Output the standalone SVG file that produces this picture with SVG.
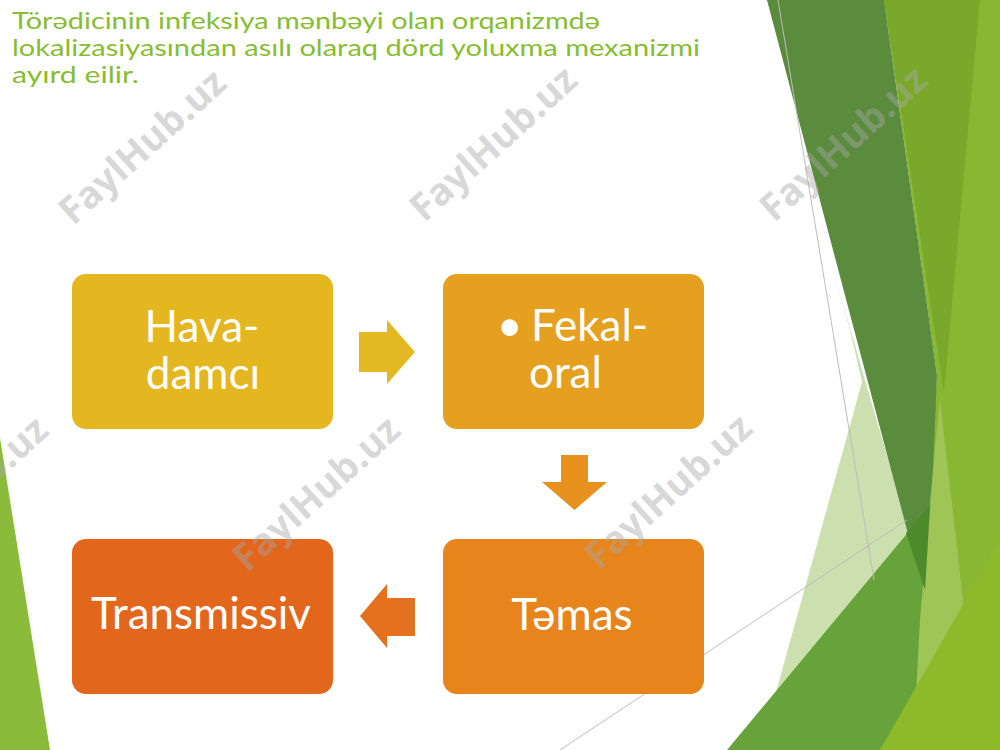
<svg xmlns="http://www.w3.org/2000/svg" width="1000" height="750" viewBox="0 0 1000 750">
  <style>
    .title { font-family: Lato, "Noto Sans", "DejaVu Sans", sans-serif; font-size: 23px; fill: #88bc32; }
    .lbl { font-family: Lato, "Noto Sans", "DejaVu Sans", sans-serif; font-size: 44px; fill: #ffffff; }
    .wm { font-family: "Open Sans", "Liberation Sans", sans-serif; font-weight: 700; font-size: 38px; fill: #a8a8a8; fill-opacity: 0.45; }
    .thin { stroke: #bdbdbd; stroke-width: 1; fill: none; }
  </style>
  <rect x="0" y="0" width="1000" height="750" fill="#ffffff"/>

  <g id="decoration">
    <polygon points="0,438 50,750 0,750" fill="#8bbb3a"/>
    <polygon points="884,0 1000,0 1000,750 880,750 913,690 925,560 937,375" fill="#8ab733"/>
    <polygon points="884,0 980,0 944,392" fill="#79a82b"/>
    <polygon points="832,266 850,330 862,382 760,750 913,750 908,528" fill="#a9c97a" fill-opacity="0.6"/>
    <polygon points="767,0 884,0 937,375 933,470 925,588 907,530" fill="#5b8b3d"/>
    <polygon points="940,400 963,600 958,680 915,700 920,600 932,480" fill="#b4d47c" fill-opacity="0.5"/>
    <polygon points="727,750 910,530 930,505 920,620 913,750" fill="#68a23a"/>
    <polygon points="906,533 930,505 925,590" fill="#4d8a2b"/>
    <polygon points="880,750 1000,540 1000,750" fill="#8cba2a"/>
    <line class="thin" x1="778" y1="0" x2="874" y2="580"/>
    <line class="thin" x1="560" y1="750" x2="907" y2="520"/>
  </g>

  <g id="title">
    <text class="title" x="12" y="29" textLength="588" lengthAdjust="spacingAndGlyphs">Törədicinin infeksiya mənbəyi olan orqanizmdə</text>
    <text class="title" x="12" y="56" textLength="688" lengthAdjust="spacingAndGlyphs">lokalizasiyasından asılı olaraq dörd yoluxma mexanizmi</text>
    <text class="title" x="12" y="83" textLength="127" lengthAdjust="spacingAndGlyphs">ayırd eilir.</text>
  </g>

  <g id="connectors">
    <polygon points="359,332 387,332 387,320 415,352 387,384 387,372 359,372" fill="#e4b823"/>
    <polygon points="561,455 588,455 588,482 607,482 574.5,510 542,482 561,482" fill="#e7911e"/>
    <polygon points="415,598 387,598 387,584 360,616 387,648 387,636 415,636" fill="#e5701d"/>
  </g>

  <g id="node-hava">
    <rect x="72" y="274" width="261" height="155" rx="14" fill="#e4b61f"/>
    <text class="lbl" x="202" y="342" text-anchor="middle">Hava-</text>
    <text class="lbl" x="203" y="389" text-anchor="middle">damcı</text>
  </g>

  <g id="node-fekal">
    <rect x="443" y="274" width="261" height="155" rx="14" fill="#e6a020"/>
    <text class="lbl" y="341"><tspan x="497">•</tspan><tspan x="531">Fekal-</tspan></text>
    <text class="lbl" x="529" y="388">oral</text>
  </g>

  <g id="node-temas">
    <rect x="443" y="539" width="261" height="155" rx="14" fill="#e7841b"/>
    <text class="lbl" x="572" y="630" text-anchor="middle">Təmas</text>
  </g>

  <g id="node-transmissiv">
    <rect x="72" y="539" width="261" height="155" rx="14" fill="#e2661c"/>
    <text class="lbl" x="201" y="629" text-anchor="middle" textLength="220" lengthAdjust="spacingAndGlyphs">Transmissiv</text>
  </g>

  <g id="watermarks">
    <text class="wm" x="141" y="145" text-anchor="middle" dominant-baseline="central" transform="rotate(-42 141 145)">FaylHub.uz</text>
    <text class="wm" x="492" y="142" text-anchor="middle" dominant-baseline="central" transform="rotate(-42 492 142)">FaylHub.uz</text>
    <text class="wm" x="842" y="142" text-anchor="middle" dominant-baseline="central" transform="rotate(-42 842 142)">FaylHub.uz</text>
    <text class="wm" x="-37" y="492" text-anchor="middle" dominant-baseline="central" transform="rotate(-42 -37 492)">FaylHub.uz</text>
    <text class="wm" x="315" y="492" text-anchor="middle" dominant-baseline="central" transform="rotate(-42 315 492)">FaylHub.uz</text>
    <text class="wm" x="667" y="490" text-anchor="middle" dominant-baseline="central" transform="rotate(-42 667 490)">FaylHub.uz</text>
  </g>
</svg>
